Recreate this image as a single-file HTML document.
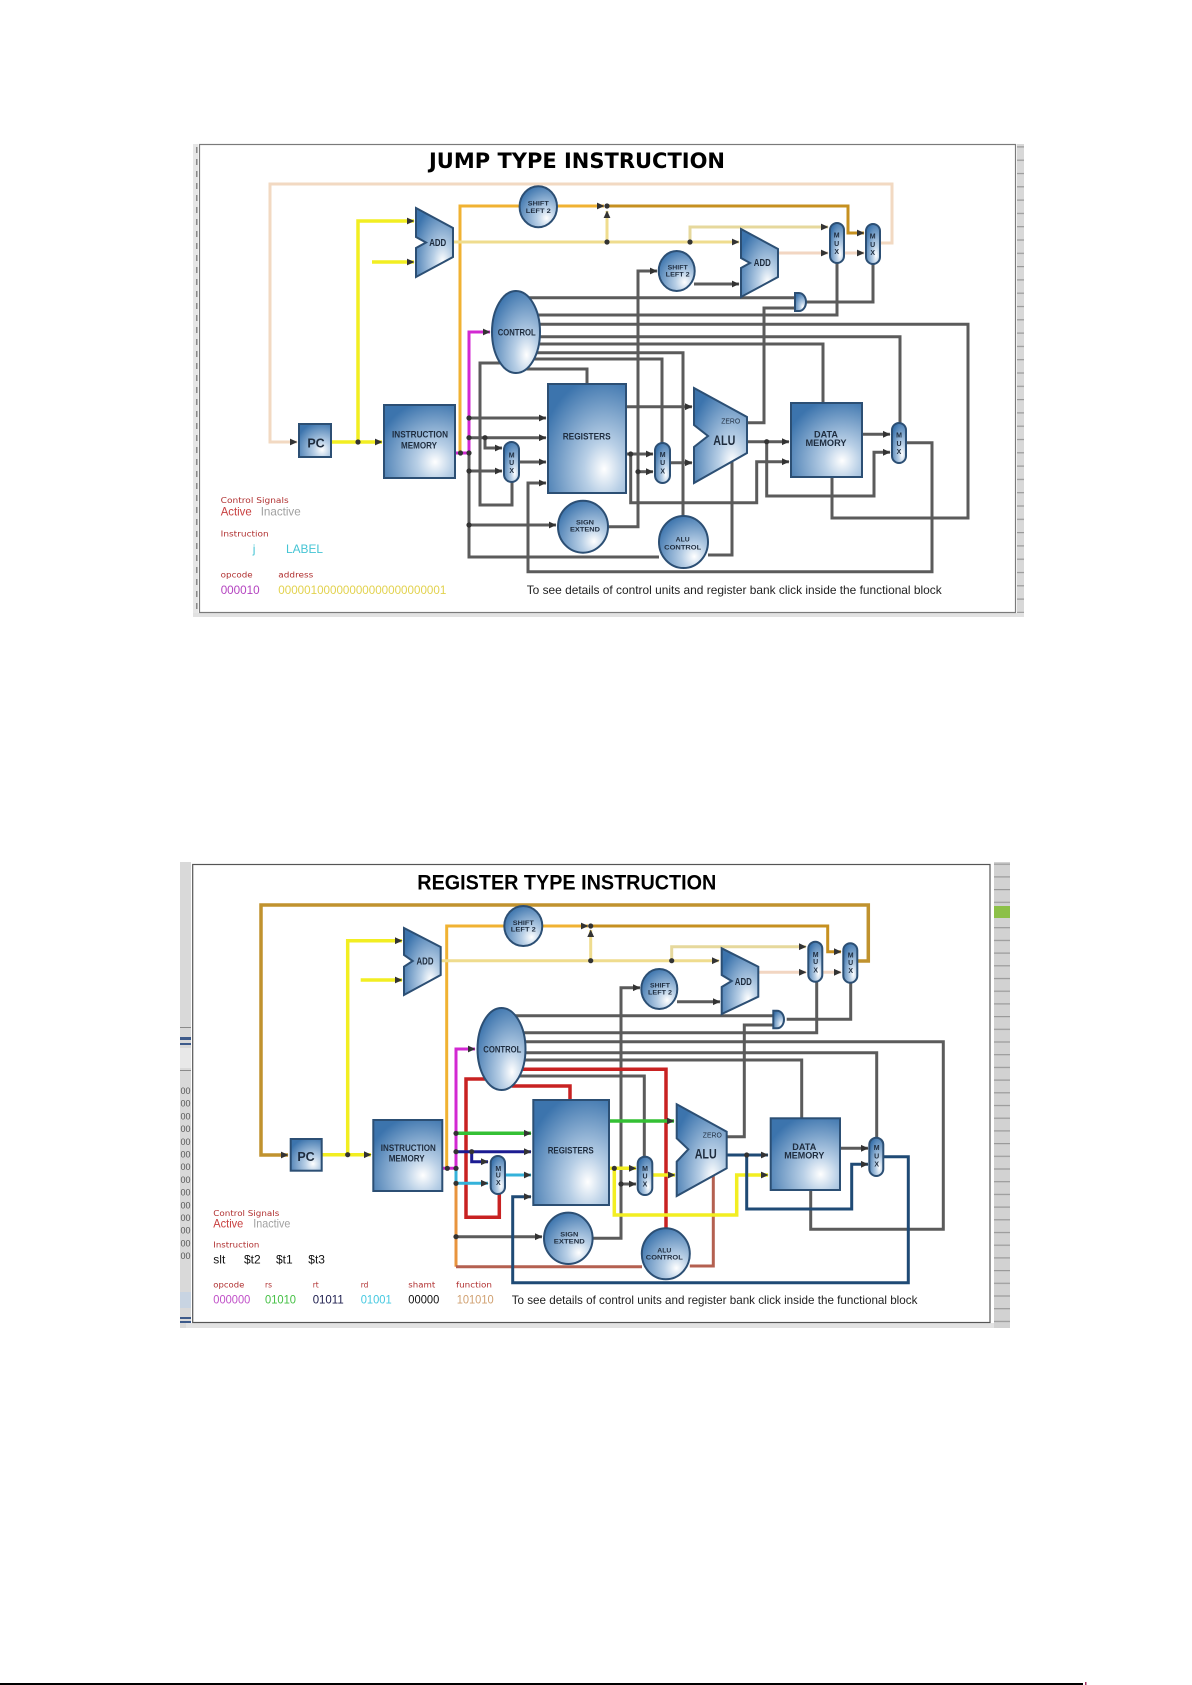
<!DOCTYPE html>
<html><head><meta charset="utf-8"><style>
html,body{margin:0;padding:0;background:#fff;}
svg{display:block}
.g{stroke:#5b5b5b;stroke-width:3;fill:none}
.y{stroke:#f2ee22;stroke-width:3.5;fill:none}
.tan{stroke:#f2d9c2;stroke-width:3;fill:none}
.o{stroke:#f0b232;stroke-width:3;fill:none}
.dg{stroke:#c69020;stroke-width:3;fill:none}
.ly{stroke:#efdc8e;stroke-width:3;fill:none}
.ly2{stroke:#e6d89c;stroke-width:3;fill:none}
.pk{stroke:#f2d6c2;stroke-width:3;fill:none}
.m{stroke:#d228d2;stroke-width:3;fill:none}
.gd{stroke:#c0922e;stroke-width:3.5;fill:none}
.gr{stroke:#34c034;stroke-width:3.5;fill:none}
.nv{stroke:#1c1c92;stroke-width:3;fill:none}
.cy{stroke:#34b2da;stroke-width:3;fill:none}
.or{stroke:#e8943e;stroke-width:3;fill:none}
.br{stroke:#b46050;stroke-width:3;fill:none}
.rd{stroke:#c82222;stroke-width:3.5;fill:none}
.bl{stroke:#1f4a75;stroke-width:3;fill:none}
.blk{fill:url(#bg);stroke:#2c4f74;stroke-width:2}
.t{font-family:"Liberation Sans",Arial,sans-serif;font-weight:bold;fill:#1e2c3e;text-anchor:middle}
.s{font-family:"DejaVu Sans","Liberation Sans",sans-serif;fill:#b03030;font-size:7.5px}
.n{font-family:"Liberation Sans",Arial,sans-serif;font-size:12px}
</style></head><body>
<svg width="1192" height="1685" viewBox="0 0 1192 1685" xmlns="http://www.w3.org/2000/svg">
<defs>
<radialGradient id="bg" cx="0.72" cy="0.78" r="0.85" fx="0.72" fy="0.78">
<stop offset="0" stop-color="#ffffff"/>
<stop offset="0.3" stop-color="#b8cfe6"/>
<stop offset="1" stop-color="#3c74ad"/>
</radialGradient>
<marker id="ar" markerWidth="9" markerHeight="9" refX="7" refY="4" orient="auto" markerUnits="userSpaceOnUse"><path d="M0,0.6 L7.5,4 L0,7.4 Z" fill="#333"/></marker>
<pattern id="tk1" width="7" height="13.3" patternUnits="userSpaceOnUse"><rect width="7" height="13.3" fill="#d8d8d8"/><rect width="7" height="1.2" fill="#9a9a9a"/></pattern>
<pattern id="tk2" width="16" height="12.7" patternUnits="userSpaceOnUse"><rect width="16" height="12.7" fill="#d2d2d2"/><rect width="16" height="1.2" fill="#9a9a9a"/></pattern>
<pattern id="tk3" width="5" height="12" patternUnits="userSpaceOnUse"><rect width="5" height="12" fill="#e6e6e6"/><rect x="1" y="3" width="1.5" height="6" fill="#8a8a8a"/></pattern>
</defs>

<!-- ================= JUMP TYPE ================= -->
<rect x="193" y="144" width="5" height="473" fill="url(#tk3)"/>
<rect x="1017" y="144" width="7" height="473" fill="url(#tk1)"/>
<rect x="193" y="613" width="831" height="4" fill="#e2e2e2"/>
<rect x="199.5" y="144.5" width="816" height="468" fill="#fff" stroke="#7a7a7a" stroke-width="1.2"/>
<text x="429" y="168" font-family="DejaVu Sans, Liberation Sans, sans-serif" font-weight="bold" font-size="21" textLength="296" lengthAdjust="spacingAndGlyphs" fill="#000">JUMP TYPE INSTRUCTION</text>

<path class="tan" d="M880 243 H892 V184 H270 V442 H297" marker-end="url(#ar)"/>
<path class="y" d="M331 442 H382" marker-end="url(#ar)"/>
<path class="y" d="M358 442 V221 H414" marker-end="url(#ar)"/>
<path class="y" d="M372 262 H414" marker-end="url(#ar)"/>
<path class="o" d="M460 453 V206 H520"/>
<path class="o" d="M557 206 H604" marker-end="url(#ar)"/>
<path class="dg" d="M607 206 H848 V233 H864" marker-end="url(#ar)"/>
<path class="ly" d="M453 242 H739" marker-end="url(#ar)"/>
<path class="ly" d="M607 242 V211" marker-end="url(#ar)"/>
<path class="ly2" d="M690 242 V227 H828" marker-end="url(#ar)"/>
<path class="pk" d="M778 253 H828" marker-end="url(#ar)"/>
<path class="pk" d="M844 253 H864" marker-end="url(#ar)"/>

<path class="g" d="M469 418 V557 H659"/>
<path class="g" d="M469 418 H546" marker-end="url(#ar)"/>
<path class="g" d="M469 437.7 H546" marker-end="url(#ar)"/>
<path class="g" d="M485 437.7 V448 H502" marker-end="url(#ar)"/>
<path class="g" d="M469 471 H502" marker-end="url(#ar)"/>
<path class="g" d="M469 525 H556" marker-end="url(#ar)"/>
<path class="g" d="M519 462 H546" marker-end="url(#ar)"/>
<path class="g" d="M512 482 V505 H480 V363 H500"/>
<path class="g" d="M526 369 H587 V384"/>
<path class="g" d="M906 442.7 H932 V571.7 H528 V483 H546" marker-end="url(#ar)"/>
<path class="g" d="M529 297.7 H795"/>
<path class="g" d="M538 315 H837 V263"/>
<path class="g" d="M539 324.3 H968 V518 H832 V477"/>
<path class="g" d="M540 336.7 H900 V423"/>
<path class="g" d="M539 344 H823 V403"/>
<path class="g" d="M537 352.7 H683 V516"/>
<path class="g" d="M534 359 H662 V443"/>
<path class="g" d="M806 302 H873 V264"/>
<path class="g" d="M795 308 H764 V422.7 H747"/>
<path class="g" d="M608 526.7 H638 V271 H657" marker-end="url(#ar)"/>
<path class="g" d="M638 471.7 H653" marker-end="url(#ar)"/>
<path class="g" d="M694 284 H739" marker-end="url(#ar)"/>
<path class="g" d="M626 406.7 H692" marker-end="url(#ar)"/>
<path class="g" d="M626 454 H653" marker-end="url(#ar)"/>
<path class="g" d="M630.7 454 V502.7 H756.7 V461.7 H789" marker-end="url(#ar)"/>
<path class="g" d="M670 462.7 H692" marker-end="url(#ar)"/>
<path class="g" d="M747 441.7 H789" marker-end="url(#ar)"/>
<path class="g" d="M766.7 441.7 V496 H874 V452.3 H890" marker-end="url(#ar)"/>
<path class="g" d="M708 555 H732 V462"/>
<path class="g" d="M861.7 434.3 H890" marker-end="url(#ar)"/>
<path class="m" d="M455 453 H469 V332 H490" marker-end="url(#ar)"/>

<g fill="#333">
<circle cx="358" cy="442" r="2.6"/><circle cx="607" cy="206" r="2.6"/><circle cx="607" cy="242" r="2.6"/>
<circle cx="690" cy="242" r="2.6"/><circle cx="460.5" cy="453" r="2.6"/><circle cx="469" cy="453" r="2.6"/>
<circle cx="469" cy="418" r="2.6"/><circle cx="469" cy="437.7" r="2.6"/><circle cx="485" cy="437.7" r="2.6"/>
<circle cx="469" cy="471" r="2.6"/><circle cx="469" cy="525" r="2.6"/><circle cx="630.7" cy="454" r="2.6"/>
<circle cx="638" cy="471.7" r="2.6"/><circle cx="766.7" cy="441.7" r="2.6"/>
</g>

<rect class="blk" x="299" y="424" width="32" height="33"/>
<rect class="blk" x="384" y="405" width="71" height="73"/>
<rect class="blk" x="548" y="384" width="78" height="109"/>
<rect class="blk" x="791" y="403" width="71" height="74"/>
<rect class="blk" x="504" y="442" width="15" height="40" rx="7.5"/>
<rect class="blk" x="655" y="443" width="15" height="40" rx="7.5"/>
<rect class="blk" x="892" y="423" width="14" height="40" rx="7"/>
<rect class="blk" x="830" y="223" width="14" height="40" rx="7"/>
<rect class="blk" x="866" y="224" width="14" height="40" rx="7"/>
<ellipse class="blk" cx="516" cy="332" rx="24" ry="41"/>
<ellipse class="blk" cx="538.3" cy="206.7" rx="18.7" ry="20.5"/>
<ellipse class="blk" cx="676.7" cy="271" rx="18" ry="20"/>
<ellipse class="blk" cx="583" cy="526.7" rx="25" ry="26"/>
<ellipse class="blk" cx="683.5" cy="542" rx="24.5" ry="26"/>
<polygon class="blk" points="416,208 453,228 453,257 416,277 416,248 426,242.5 416,237"/>
<polygon class="blk" points="741,229 778,249 778,277 741,297 741,268 750,263 741,258"/>
<polygon class="blk" points="694,388 747,417 747,453 694,483 694,447 708,436 694,425"/>
<path class="blk" d="M795 293 H799 A7 9 0 0 1 799 311 H795 Z"/>

<g class="t">
<text x="316" y="447.3" font-size="12.5">PC</text>
<text x="420" y="437.7" font-size="9" textLength="56" lengthAdjust="spacingAndGlyphs">INSTRUCTION</text>
<text x="419" y="448.3" font-size="9" textLength="36" lengthAdjust="spacingAndGlyphs">MEMORY</text>
<text x="586.7" y="439.3" font-size="9" textLength="48" lengthAdjust="spacingAndGlyphs">REGISTERS</text>
<text x="437.7" y="246" font-size="10" textLength="17" lengthAdjust="spacingAndGlyphs">ADD</text>
<text x="762.3" y="266" font-size="10" textLength="17" lengthAdjust="spacingAndGlyphs">ADD</text>
<text x="516.7" y="335.7" font-size="9.5" textLength="38" lengthAdjust="spacingAndGlyphs">CONTROL</text>
<text x="538.3" y="205.7" font-size="6.5" textLength="21" lengthAdjust="spacingAndGlyphs">SHIFT</text>
<text x="538.3" y="212.8" font-size="6.5" textLength="25" lengthAdjust="spacingAndGlyphs">LEFT 2</text>
<text x="677.7" y="269.3" font-size="6.5" textLength="20" lengthAdjust="spacingAndGlyphs">SHIFT</text>
<text x="677.7" y="276.7" font-size="6.5" textLength="24" lengthAdjust="spacingAndGlyphs">LEFT 2</text>
<text x="585" y="524.3" font-size="6.5" textLength="18" lengthAdjust="spacingAndGlyphs">SIGN</text>
<text x="585" y="531.7" font-size="6.5" textLength="30" lengthAdjust="spacingAndGlyphs">EXTEND</text>
<text x="682.7" y="541.7" font-size="6.5" textLength="14" lengthAdjust="spacingAndGlyphs">ALU</text>
<text x="682.7" y="549.3" font-size="6.5" textLength="37" lengthAdjust="spacingAndGlyphs">CONTROL</text>
<text x="724.3" y="445" font-size="13.5" textLength="22" lengthAdjust="spacingAndGlyphs">ALU</text>
<text x="730.7" y="423.3" font-size="7" font-weight="normal" textLength="19" lengthAdjust="spacingAndGlyphs">ZERO</text>
<text x="826" y="437.3" font-size="9" textLength="24" lengthAdjust="spacingAndGlyphs">DATA</text>
<text x="826" y="446" font-size="9" textLength="41" lengthAdjust="spacingAndGlyphs">MEMORY</text>
</g>
<g class="t" font-size="7">
<text x="511.7" y="457.5">M</text><text x="511.7" y="465.2">U</text><text x="511.7" y="473">X</text>
<text x="662.7" y="456.8">M</text><text x="662.7" y="465.2">U</text><text x="662.7" y="473.5">X</text>
<text x="899" y="437.5">M</text><text x="899" y="445.8">U</text><text x="899" y="454.2">X</text>
<text x="836.7" y="237.5">M</text><text x="836.7" y="245.8">U</text><text x="836.7" y="254.2">X</text>
<text x="872.7" y="238.5">M</text><text x="872.7" y="246.8">U</text><text x="872.7" y="255.2">X</text>
</g>

<text class="s" x="220.7" y="503" textLength="68" lengthAdjust="spacingAndGlyphs">Control Signals</text>
<text class="n" x="220.7" y="515.7" fill="#c84040" font-size="11.5" textLength="31" lengthAdjust="spacingAndGlyphs">Active</text>
<text class="n" x="260.7" y="515.7" fill="#a0a0a0" font-size="11.5" textLength="40" lengthAdjust="spacingAndGlyphs">Inactive</text>
<text class="s" x="220.7" y="536.7" textLength="48" lengthAdjust="spacingAndGlyphs">Instruction</text>
<text class="n" x="252.7" y="553" fill="#44c4d4">j</text>
<text class="n" x="286" y="553" fill="#44c4d4" textLength="37" lengthAdjust="spacingAndGlyphs">LABEL</text>
<text class="s" x="220.7" y="577.3" textLength="32" lengthAdjust="spacingAndGlyphs">opcode</text>
<text class="s" x="278.3" y="577.3" textLength="35" lengthAdjust="spacingAndGlyphs">address</text>
<text class="n" x="220.7" y="594" fill="#b444c0" font-size="11.5" textLength="39" lengthAdjust="spacingAndGlyphs">000010</text>
<text class="n" x="278.3" y="594" fill="#e2d24e" font-size="11.5" textLength="168" lengthAdjust="spacingAndGlyphs">00000100000000000000000001</text>
<text class="n" x="526.7" y="594" fill="#222" font-size="11.5" textLength="415" lengthAdjust="spacingAndGlyphs">To see details of control units and register bank click inside the functional block</text>

<!-- ================= REGISTER TYPE ================= -->
<rect x="180" y="862" width="11" height="466" fill="#d9d9d9"/>
<rect x="180" y="1027" width="11" height="1" fill="#8a8a8a"/>
<rect x="180" y="1037" width="11" height="3" fill="#3d5a8a"/>
<rect x="180" y="1043" width="11" height="2" fill="#3d5a8a"/>
<rect x="180" y="1048" width="11" height="20" fill="#e8e8e8"/>
<rect x="180" y="1070" width="11" height="1" fill="#8a8a8a"/>
<g font-family="Liberation Sans, sans-serif" font-size="9" fill="#555">
<text x="180.5" y="1094">00</text><text x="180.5" y="1106.7">00</text><text x="180.5" y="1119.4">00</text>
<text x="180.5" y="1132">00</text><text x="180.5" y="1144.8">00</text><text x="180.5" y="1157.5">00</text>
<text x="180.5" y="1170.2">00</text><text x="180.5" y="1183">00</text><text x="180.5" y="1195.6">00</text>
<text x="180.5" y="1208.3">00</text><text x="180.5" y="1221">00</text><text x="180.5" y="1233.7">00</text>
<text x="180.5" y="1246.4">00</text><text x="180.5" y="1259">00</text>
</g>
<rect x="180" y="1292" width="11" height="16" fill="#c8d4e2"/>
<rect x="180" y="1317" width="11" height="2" fill="#3d5a8a"/>
<rect x="180" y="1321" width="11" height="2" fill="#3d5a8a"/>
<rect x="994" y="862" width="16" height="466" fill="url(#tk2)"/>
<rect x="994" y="906" width="16" height="12" fill="#8cc048"/>
<rect x="186" y="1323" width="808" height="5" fill="#e2e2e2"/>
<rect x="192.7" y="864.5" width="797.3" height="458" fill="#fff" stroke="#555" stroke-width="1.2"/>
<text x="417.3" y="889.3" font-family="Liberation Sans, Arial, sans-serif" font-weight="bold" font-size="21" textLength="299" lengthAdjust="spacingAndGlyphs" fill="#000">REGISTER TYPE INSTRUCTION</text>

<path class="gd" d="M857.3 961 H868.3 V905 H261 V1155 H288" marker-end="url(#ar)"/>
<path class="y" d="M321.7 1154.7 H371" marker-end="url(#ar)"/>
<path class="y" d="M347.7 1154.7 V940.7 H402" marker-end="url(#ar)"/>
<path class="y" d="M360.7 980 H402" marker-end="url(#ar)"/>
<path class="o" d="M446.7 1168.3 V926 H504"/>
<path class="o" d="M542.3 926 H588" marker-end="url(#ar)"/>
<path class="dg" d="M590.7 926 H827.7 V951.7 H841" marker-end="url(#ar)"/>
<path class="ly" d="M440.7 960.7 H719" marker-end="url(#ar)"/>
<path class="ly" d="M590.7 960.7 V930" marker-end="url(#ar)"/>
<path class="ly2" d="M671.7 960.7 V946.7 H806" marker-end="url(#ar)"/>
<path class="pk" d="M758.3 972.3 H806" marker-end="url(#ar)"/>
<path class="pk" d="M822.3 972.3 H841" marker-end="url(#ar)"/>

<path class="g" d="M515.5 1015.7 H773"/>
<path class="g" d="M523.5 1032.7 H816.7 V981.7"/>
<path class="g" d="M525 1041.7 H943.3 V1229.3 H810.7 V1190"/>
<path class="g" d="M525.5 1052.7 H876.7 V1138"/>
<path class="g" d="M524.6 1060 H801.7 V1118.3"/>
<path class="g" d="M519.5 1076 H644.3 V1156.7"/>
<path class="g" d="M592.5 1238.3 H621 V987.7 H640" marker-end="url(#ar)"/>
<path class="g" d="M621 1184 H636" marker-end="url(#ar)"/>
<path class="g" d="M677 1001.7 H720" marker-end="url(#ar)"/>
<path class="g" d="M786.7 1019.3 H850.7 V982.7"/>
<path class="g" d="M773 1025 H744.3 V1136.7 H727"/>
<path class="g" d="M840 1148.3 H868" marker-end="url(#ar)"/>
<path class="g" d="M456 1236.7 H542" marker-end="url(#ar)"/>
<path class="rd" d="M485 1079 H466 V1217.3 H499.3 V1194"/>
<path class="rd" d="M511.8 1086 H570 V1100"/>
<path class="rd" d="M522.4 1069.3 H666 V1228.3"/>
<path class="or" d="M456 1183.3 V1266.7"/>
<path class="br" d="M456 1266.7 H642"/>
<path class="br" d="M689.8 1266 H713.3 V1176"/>
<path class="m" d="M442.3 1168.3 H456 V1049 H475" marker-end="url(#ar)"/>
<path class="gr" d="M456 1133.3 H531" marker-end="url(#ar)"/>
<path class="gr" d="M608.3 1121 H674" marker-end="url(#ar)"/>
<path class="nv" d="M456 1151.7 H531" marker-end="url(#ar)"/>
<path class="nv" d="M471.7 1151.7 V1161.7 H488" marker-end="url(#ar)"/>
<path class="cy" d="M456 1168.3 V1183.3 H488" marker-end="url(#ar)"/>
<path class="cy" d="M505 1175 H531" marker-end="url(#ar)"/>
<path class="y" d="M608.3 1168.3 H636" marker-end="url(#ar)"/>
<path class="y" d="M614.3 1168.3 V1215 H736.7 V1175 H768" marker-end="url(#ar)"/>
<path class="y" d="M652.3 1175 H675" marker-end="url(#ar)"/>
<path class="bl" d="M726.7 1155 H768" marker-end="url(#ar)"/>
<path class="bl" d="M746.7 1155 V1209 H851.7 V1164.3 H868" marker-end="url(#ar)"/>
<path class="bl" d="M883.3 1156.7 H908.3 V1282.7 H512.7 V1196.7 H531" marker-end="url(#ar)"/>

<g fill="#333">
<circle cx="347.7" cy="1154.7" r="2.6"/><circle cx="590.7" cy="926" r="2.6"/><circle cx="590.7" cy="960.7" r="2.6"/>
<circle cx="671.7" cy="960.7" r="2.6"/><circle cx="447.3" cy="1168.3" r="2.6"/><circle cx="456" cy="1168.3" r="2.6"/>
<circle cx="456" cy="1133.3" r="2.6"/><circle cx="456" cy="1151.7" r="2.6"/><circle cx="471.7" cy="1151.7" r="2.6"/>
<circle cx="456" cy="1183.3" r="2.6"/><circle cx="456" cy="1236.7" r="2.6"/><circle cx="614.3" cy="1168.3" r="2.6"/>
<circle cx="621" cy="1184" r="2.6"/><circle cx="746.7" cy="1155" r="2.6"/>
</g>

<rect class="blk" x="290.7" y="1139" width="31" height="31.7"/>
<rect class="blk" x="373.3" y="1120" width="69" height="71"/>
<rect class="blk" x="533.3" y="1100" width="75.7" height="105"/>
<rect class="blk" x="770.7" y="1118.3" width="69.3" height="71.7"/>
<rect class="blk" x="490.7" y="1156" width="14.3" height="38" rx="7"/>
<rect class="blk" x="637.7" y="1156.7" width="14.6" height="38.3" rx="7"/>
<rect class="blk" x="869.3" y="1137.7" width="14" height="38.3" rx="7"/>
<rect class="blk" x="808.3" y="941.7" width="14" height="40" rx="7"/>
<rect class="blk" x="843.3" y="943.3" width="14" height="39.4" rx="7"/>
<ellipse class="blk" cx="501.5" cy="1049" rx="24" ry="41"/>
<ellipse class="blk" cx="523.3" cy="926" rx="19" ry="20"/>
<ellipse class="blk" cx="659.3" cy="989" rx="18" ry="20"/>
<ellipse class="blk" cx="568.3" cy="1238.3" rx="24.3" ry="25.7"/>
<ellipse class="blk" cx="665.8" cy="1253.8" rx="24" ry="25.5"/>
<polygon class="blk" points="404,928 440.7,947 440.7,975 404,995 404,966.7 412.7,961 404,955"/>
<polygon class="blk" points="721.7,948.3 758.3,966.7 758.3,996.7 721.7,1014 721.7,987 731.7,981 721.7,975"/>
<polygon class="blk" points="676.7,1104.3 726.7,1131.7 726.7,1168.3 676.7,1196 676.7,1161.7 688.3,1149.3 676.7,1138.3"/>
<path class="blk" d="M773.3 1010.7 H777 A7 8.8 0 0 1 777 1028.3 H773.3 Z"/>

<g class="t">
<text x="306" y="1161" font-size="12.5">PC</text>
<text x="408.3" y="1151" font-size="9" textLength="55" lengthAdjust="spacingAndGlyphs">INSTRUCTION</text>
<text x="406.7" y="1161.7" font-size="9" textLength="36" lengthAdjust="spacingAndGlyphs">MEMORY</text>
<text x="570.7" y="1153.3" font-size="9" textLength="46" lengthAdjust="spacingAndGlyphs">REGISTERS</text>
<text x="425" y="964.3" font-size="10" textLength="17" lengthAdjust="spacingAndGlyphs">ADD</text>
<text x="743.3" y="985" font-size="10" textLength="17" lengthAdjust="spacingAndGlyphs">ADD</text>
<text x="502.3" y="1052.3" font-size="9.5" textLength="38" lengthAdjust="spacingAndGlyphs">CONTROL</text>
<text x="523.3" y="925" font-size="6.5" textLength="21" lengthAdjust="spacingAndGlyphs">SHIFT</text>
<text x="523.3" y="931.7" font-size="6.5" textLength="25" lengthAdjust="spacingAndGlyphs">LEFT 2</text>
<text x="660" y="987.7" font-size="6.5" textLength="20" lengthAdjust="spacingAndGlyphs">SHIFT</text>
<text x="660" y="994.3" font-size="6.5" textLength="24" lengthAdjust="spacingAndGlyphs">LEFT 2</text>
<text x="569.3" y="1236.7" font-size="6.5" textLength="18" lengthAdjust="spacingAndGlyphs">SIGN</text>
<text x="569.3" y="1243.3" font-size="6.5" textLength="31" lengthAdjust="spacingAndGlyphs">EXTEND</text>
<text x="664.3" y="1252.7" font-size="6.5" textLength="14" lengthAdjust="spacingAndGlyphs">ALU</text>
<text x="664.3" y="1259.3" font-size="6.5" textLength="37" lengthAdjust="spacingAndGlyphs">CONTROL</text>
<text x="705.7" y="1158.3" font-size="13.5" textLength="22" lengthAdjust="spacingAndGlyphs">ALU</text>
<text x="712.3" y="1137.7" font-size="7" font-weight="normal" textLength="19" lengthAdjust="spacingAndGlyphs">ZERO</text>
<text x="804.3" y="1150" font-size="9" textLength="24" lengthAdjust="spacingAndGlyphs">DATA</text>
<text x="804.3" y="1158.3" font-size="9" textLength="40" lengthAdjust="spacingAndGlyphs">MEMORY</text>
</g>
<g class="t" font-size="7">
<text x="498.3" y="1170.8">M</text><text x="498.3" y="1177.5">U</text><text x="498.3" y="1185.2">X</text>
<text x="645" y="1170.8">M</text><text x="645" y="1178.5">U</text><text x="645" y="1186.5">X</text>
<text x="876.7" y="1149.8">M</text><text x="876.7" y="1158.5">U</text><text x="876.7" y="1166.5">X</text>
<text x="815.7" y="956.8">M</text><text x="815.7" y="964.2">U</text><text x="815.7" y="972.5">X</text>
<text x="850.7" y="957.5">M</text><text x="850.7" y="965.2">U</text><text x="850.7" y="973.2">X</text>
</g>

<text class="s" x="213.3" y="1216" textLength="66" lengthAdjust="spacingAndGlyphs">Control Signals</text>
<text class="n" x="213.3" y="1227.3" fill="#c84040" font-size="11.5" textLength="30" lengthAdjust="spacingAndGlyphs">Active</text>
<text class="n" x="253.3" y="1227.3" fill="#a0a0a0" font-size="11.5" textLength="37" lengthAdjust="spacingAndGlyphs">Inactive</text>
<text class="s" x="213.3" y="1247.7" textLength="46" lengthAdjust="spacingAndGlyphs">Instruction</text>
<text class="n" x="213.3" y="1263.3" fill="#111">slt</text>
<text class="n" x="244" y="1263.3" fill="#111">$t2</text>
<text class="n" x="276" y="1263.3" fill="#111">$t1</text>
<text class="n" x="308.3" y="1263.3" fill="#111">$t3</text>
<text class="s" x="213.3" y="1287.7" textLength="31" lengthAdjust="spacingAndGlyphs">opcode</text>
<text class="s" x="265" y="1287.7">rs</text>
<text class="s" x="312.7" y="1287.7">rt</text>
<text class="s" x="360.7" y="1287.7">rd</text>
<text class="s" x="408.3" y="1287.7" textLength="27" lengthAdjust="spacingAndGlyphs">shamt</text>
<text class="s" x="456" y="1287.7" textLength="36" lengthAdjust="spacingAndGlyphs">function</text>
<text class="n" x="213.3" y="1303.3" fill="#c050c8" font-size="11.5" textLength="37" lengthAdjust="spacingAndGlyphs">000000</text>
<text class="n" x="265" y="1303.3" fill="#44c044" font-size="11.5" textLength="31" lengthAdjust="spacingAndGlyphs">01010</text>
<text class="n" x="312.7" y="1303.3" fill="#202050" font-size="11.5" textLength="31" lengthAdjust="spacingAndGlyphs">01011</text>
<text class="n" x="360.7" y="1303.3" fill="#44c8e0" font-size="11.5" textLength="31" lengthAdjust="spacingAndGlyphs">01001</text>
<text class="n" x="408.3" y="1303.3" fill="#111" font-size="11.5" textLength="31" lengthAdjust="spacingAndGlyphs">00000</text>
<text class="n" x="456.7" y="1303.3" fill="#d0a070" font-size="11.5" textLength="37" lengthAdjust="spacingAndGlyphs">101010</text>
<text class="n" x="511.7" y="1304" fill="#222" font-size="11.5" textLength="405.7" lengthAdjust="spacingAndGlyphs">To see details of control units and register bank click inside the functional block</text>

<!-- page footer line -->
<rect x="0" y="1683" width="1083" height="2" fill="#000"/>
<rect x="1085" y="1682" width="1.5" height="3" fill="#a03060"/>
</svg>
</body></html>
